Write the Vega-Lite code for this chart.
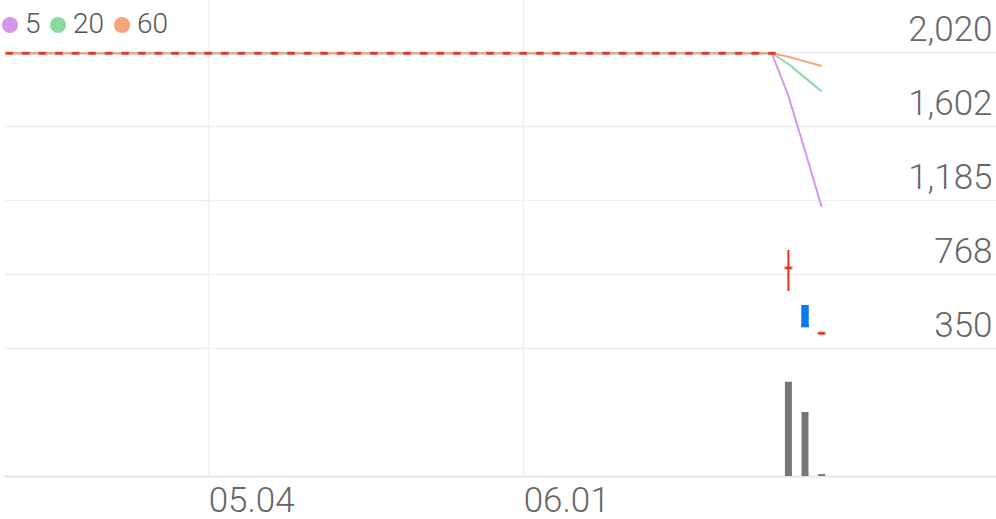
{
  "$schema": "https://vega.github.io/schema/vega-lite/v6.json",
  "width": 992,
  "height": 476,
  "autosize": {"type": "none"},
  "padding": {"left": 4, "top": 0, "right": 0, "bottom": 43},
  "background": "#ffffff",
  "data": {
    "values": [
      {"i": 0, "open": 2013, "high": 2013, "low": 2013, "close": 2013, "vol": 0, "ma5": 2013, "ma20": 2013, "ma60": 2013},
      {"i": 1, "open": 2013, "high": 2013, "low": 2013, "close": 2013, "vol": 0, "ma5": 2013, "ma20": 2013, "ma60": 2013},
      {"i": 2, "open": 2013, "high": 2013, "low": 2013, "close": 2013, "vol": 0, "ma5": 2013, "ma20": 2013, "ma60": 2013},
      {"i": 3, "open": 2013, "high": 2013, "low": 2013, "close": 2013, "vol": 0, "ma5": 2013, "ma20": 2013, "ma60": 2013},
      {"i": 4, "open": 2013, "high": 2013, "low": 2013, "close": 2013, "vol": 0, "ma5": 2013, "ma20": 2013, "ma60": 2013},
      {"i": 5, "open": 2013, "high": 2013, "low": 2013, "close": 2013, "vol": 0, "ma5": 2013, "ma20": 2013, "ma60": 2013},
      {"i": 6, "open": 2013, "high": 2013, "low": 2013, "close": 2013, "vol": 0, "ma5": 2013, "ma20": 2013, "ma60": 2013},
      {"i": 7, "open": 2013, "high": 2013, "low": 2013, "close": 2013, "vol": 0, "ma5": 2013, "ma20": 2013, "ma60": 2013},
      {"i": 8, "open": 2013, "high": 2013, "low": 2013, "close": 2013, "vol": 0, "ma5": 2013, "ma20": 2013, "ma60": 2013},
      {"i": 9, "open": 2013, "high": 2013, "low": 2013, "close": 2013, "vol": 0, "ma5": 2013, "ma20": 2013, "ma60": 2013},
      {"i": 10, "open": 2013, "high": 2013, "low": 2013, "close": 2013, "vol": 0, "ma5": 2013, "ma20": 2013, "ma60": 2013},
      {"i": 11, "open": 2013, "high": 2013, "low": 2013, "close": 2013, "vol": 0, "ma5": 2013, "ma20": 2013, "ma60": 2013},
      {"i": 12, "open": 2013, "high": 2013, "low": 2013, "close": 2013, "vol": 0, "ma5": 2013, "ma20": 2013, "ma60": 2013},
      {"i": 13, "open": 2013, "high": 2013, "low": 2013, "close": 2013, "vol": 0, "ma5": 2013, "ma20": 2013, "ma60": 2013},
      {"i": 14, "open": 2013, "high": 2013, "low": 2013, "close": 2013, "vol": 0, "ma5": 2013, "ma20": 2013, "ma60": 2013},
      {"i": 15, "open": 2013, "high": 2013, "low": 2013, "close": 2013, "vol": 0, "ma5": 2013, "ma20": 2013, "ma60": 2013},
      {"i": 16, "open": 2013, "high": 2013, "low": 2013, "close": 2013, "vol": 0, "ma5": 2013, "ma20": 2013, "ma60": 2013},
      {"i": 17, "open": 2013, "high": 2013, "low": 2013, "close": 2013, "vol": 0, "ma5": 2013, "ma20": 2013, "ma60": 2013},
      {"i": 18, "open": 2013, "high": 2013, "low": 2013, "close": 2013, "vol": 0, "ma5": 2013, "ma20": 2013, "ma60": 2013},
      {"i": 19, "open": 2013, "high": 2013, "low": 2013, "close": 2013, "vol": 0, "ma5": 2013, "ma20": 2013, "ma60": 2013},
      {"i": 20, "open": 2013, "high": 2013, "low": 2013, "close": 2013, "vol": 0, "ma5": 2013, "ma20": 2013, "ma60": 2013},
      {"i": 21, "open": 2013, "high": 2013, "low": 2013, "close": 2013, "vol": 0, "ma5": 2013, "ma20": 2013, "ma60": 2013},
      {"i": 22, "open": 2013, "high": 2013, "low": 2013, "close": 2013, "vol": 0, "ma5": 2013, "ma20": 2013, "ma60": 2013},
      {"i": 23, "open": 2013, "high": 2013, "low": 2013, "close": 2013, "vol": 0, "ma5": 2013, "ma20": 2013, "ma60": 2013},
      {"i": 24, "open": 2013, "high": 2013, "low": 2013, "close": 2013, "vol": 0, "ma5": 2013, "ma20": 2013, "ma60": 2013},
      {"i": 25, "open": 2013, "high": 2013, "low": 2013, "close": 2013, "vol": 0, "ma5": 2013, "ma20": 2013, "ma60": 2013},
      {"i": 26, "open": 2013, "high": 2013, "low": 2013, "close": 2013, "vol": 0, "ma5": 2013, "ma20": 2013, "ma60": 2013},
      {"i": 27, "open": 2013, "high": 2013, "low": 2013, "close": 2013, "vol": 0, "ma5": 2013, "ma20": 2013, "ma60": 2013},
      {"i": 28, "open": 2013, "high": 2013, "low": 2013, "close": 2013, "vol": 0, "ma5": 2013, "ma20": 2013, "ma60": 2013},
      {"i": 29, "open": 2013, "high": 2013, "low": 2013, "close": 2013, "vol": 0, "ma5": 2013, "ma20": 2013, "ma60": 2013},
      {"i": 30, "open": 2013, "high": 2013, "low": 2013, "close": 2013, "vol": 0, "ma5": 2013, "ma20": 2013, "ma60": 2013},
      {"i": 31, "open": 2013, "high": 2013, "low": 2013, "close": 2013, "vol": 0, "ma5": 2013, "ma20": 2013, "ma60": 2013},
      {"i": 32, "open": 2013, "high": 2013, "low": 2013, "close": 2013, "vol": 0, "ma5": 2013, "ma20": 2013, "ma60": 2013},
      {"i": 33, "open": 2013, "high": 2013, "low": 2013, "close": 2013, "vol": 0, "ma5": 2013, "ma20": 2013, "ma60": 2013},
      {"i": 34, "open": 2013, "high": 2013, "low": 2013, "close": 2013, "vol": 0, "ma5": 2013, "ma20": 2013, "ma60": 2013},
      {"i": 35, "open": 2013, "high": 2013, "low": 2013, "close": 2013, "vol": 0, "ma5": 2013, "ma20": 2013, "ma60": 2013},
      {"i": 36, "open": 2013, "high": 2013, "low": 2013, "close": 2013, "vol": 0, "ma5": 2013, "ma20": 2013, "ma60": 2013},
      {"i": 37, "open": 2013, "high": 2013, "low": 2013, "close": 2013, "vol": 0, "ma5": 2013, "ma20": 2013, "ma60": 2013},
      {"i": 38, "open": 2013, "high": 2013, "low": 2013, "close": 2013, "vol": 0, "ma5": 2013, "ma20": 2013, "ma60": 2013},
      {"i": 39, "open": 2013, "high": 2013, "low": 2013, "close": 2013, "vol": 0, "ma5": 2013, "ma20": 2013, "ma60": 2013},
      {"i": 40, "open": 2013, "high": 2013, "low": 2013, "close": 2013, "vol": 0, "ma5": 2013, "ma20": 2013, "ma60": 2013},
      {"i": 41, "open": 2013, "high": 2013, "low": 2013, "close": 2013, "vol": 0, "ma5": 2013, "ma20": 2013, "ma60": 2013},
      {"i": 42, "open": 2013, "high": 2013, "low": 2013, "close": 2013, "vol": 0, "ma5": 2013, "ma20": 2013, "ma60": 2013},
      {"i": 43, "open": 2013, "high": 2013, "low": 2013, "close": 2013, "vol": 0, "ma5": 2013, "ma20": 2013, "ma60": 2013},
      {"i": 44, "open": 2013, "high": 2013, "low": 2013, "close": 2013, "vol": 0, "ma5": 2013, "ma20": 2013, "ma60": 2013},
      {"i": 45, "open": 2013, "high": 2013, "low": 2013, "close": 2013, "vol": 0, "ma5": 2013, "ma20": 2013, "ma60": 2013},
      {"i": 46, "open": 2013, "high": 2013, "low": 2013, "close": 2013, "vol": 0, "ma5": 2013, "ma20": 2013, "ma60": 2013},
      {"i": 47, "open": 803, "high": 904, "low": 673, "close": 803, "vol": 198100, "ma5": 1771, "ma20": 1952.5, "ma60": 1992.8},
      {"i": 48, "open": 588, "high": 588, "low": 476, "close": 476, "vol": 134500, "ma5": 1463.6, "ma20": 1875.7, "ma60": 1967.2},
      {"i": 49, "open": 435, "high": 435, "low": 435, "close": 435, "vol": 4200, "ma5": 1148, "ma20": 1796.8, "ma60": 1940.9}
    ]
  },
  "encoding": {
    "x": {
      "field": "i",
      "type": "quantitative",
      "scale": {"domain": [-0.314, 59.52], "nice": false, "zero": false, "padding": 0},
      "axis": {
        "title": null,
        "values": [12, 31],
        "labelExpr": "datum.value == 12 ? '05.04' : '06.01'",
        "labelAlign": "left",
        "labelBaseline": "top",
        "labelPadding": 7,
        "labelFont": "Roboto",
        "labelFontSize": 35,
        "labelFontWeight": 300,
        "labelColor": "#666666",
        "ticks": false,
        "tickSize": 0,
        "domain": true,
        "domainColor": "#e6e6e6",
        "domainWidth": 2,
        "grid": true,
        "gridColor": "#f0f0f0",
        "gridWidth": 1.5
      }
    }
  },
  "layer": [
    {
      "encoding": {
        "y": {
          "type": "quantitative",
          "scale": {"domain": [-369.7, 2313.1], "nice": false, "zero": false, "padding": 0},
          "axis": {
            "title": null,
            "orient": "right",
            "values": [350, 768, 1185, 1602, 2020],
            "format": ",.0f",
            "labelAlign": "right",
            "labelBaseline": "bottom",
            "labelPadding": -4,
            "labelOffset": -5,
            "labelFont": "Roboto",
            "labelFontSize": 35,
            "labelFontWeight": 300,
            "labelColor": "#666666",
            "labelOverlap": false,
            "labelFlush": false,
            "ticks": false,
            "tickSize": 0,
            "domain": false,
            "grid": true,
            "gridColor": "#f0f0f0",
            "gridWidth": 1.5
          }
        }
      },
      "layer": [
        {
          "transform": [{"fold": ["ma5", "ma20", "ma60"], "as": ["ma", "v"]}],
          "mark": {"type": "line", "strokeWidth": 2, "clip": true},
          "encoding": {
            "y": {"field": "v", "type": "quantitative"},
            "color": {
              "field": "ma",
              "type": "nominal",
              "scale": {"domain": ["ma5", "ma20", "ma60"], "range": ["#d896eb", "#8adba3", "#f6a27b"]},
              "legend": {
                "title": null,
                "orient": "none",
                "legendX": -8,
                "legendY": 11,
                "direction": "horizontal",
                "columns": 3,
                "padding": 0,
                "offset": 0,
                "symbolType": "circle",
                "symbolSize": 260,
                "symbolStrokeWidth": 0,
                "labelOffset": 1,
                "columnPadding": 3,
                "labelExpr": "replace(datum.label, 'ma', '')",
                "labelFont": "Roboto",
                "labelFontSize": 28,
                "labelFontWeight": 300,
                "labelColor": "#555555",
                "encode": {
                  "symbols": {"update": {"fill": {"scale": "color", "field": "value"}, "strokeWidth": {"value": 0}}}
                }
              }
            }
          }
        },
        {
          "mark": {"type": "rule", "strokeWidth": 2},
          "encoding": {
            "y": {"field": "low", "type": "quantitative"},
            "y2": {"field": "high"},
            "color": {"condition": {"test": "datum.close < datum.open", "value": "#0b79f2"}, "value": "#e8301e"}
          }
        },
        {
          "mark": {"type": "bar", "size": 5.5, "strokeWidth": 2},
          "encoding": {
            "y": {"field": "open", "type": "quantitative"},
            "y2": {"field": "close"},
            "fill": {"condition": {"test": "datum.close < datum.open", "value": "#0b79f2"}, "value": "#e8301e"},
            "stroke": {"condition": {"test": "datum.close < datum.open", "value": "#0b79f2"}, "value": "#e8301e"}
          }
        },
        {
          "mark": {"type": "tick", "orient": "horizontal", "size": 8, "thickness": 3},
          "encoding": {
            "y": {"field": "close", "type": "quantitative"},
            "color": {"condition": {"test": "datum.close < datum.open", "value": "#0b79f2"}, "value": "#e8301e"}
          }
        }
      ]
    },
    {
      "mark": {"type": "bar", "size": 7, "color": "#777777"},
      "encoding": {
        "y": {"field": "vol", "type": "quantitative", "scale": {"domain": [0, 1000000], "nice": false, "padding": 0}, "axis": null}
      }
    }
  ],
  "resolve": {"scale": {"y": "independent"}},
  "config": {
    "view": {"stroke": null},
    "font": "Roboto"
  }
}
